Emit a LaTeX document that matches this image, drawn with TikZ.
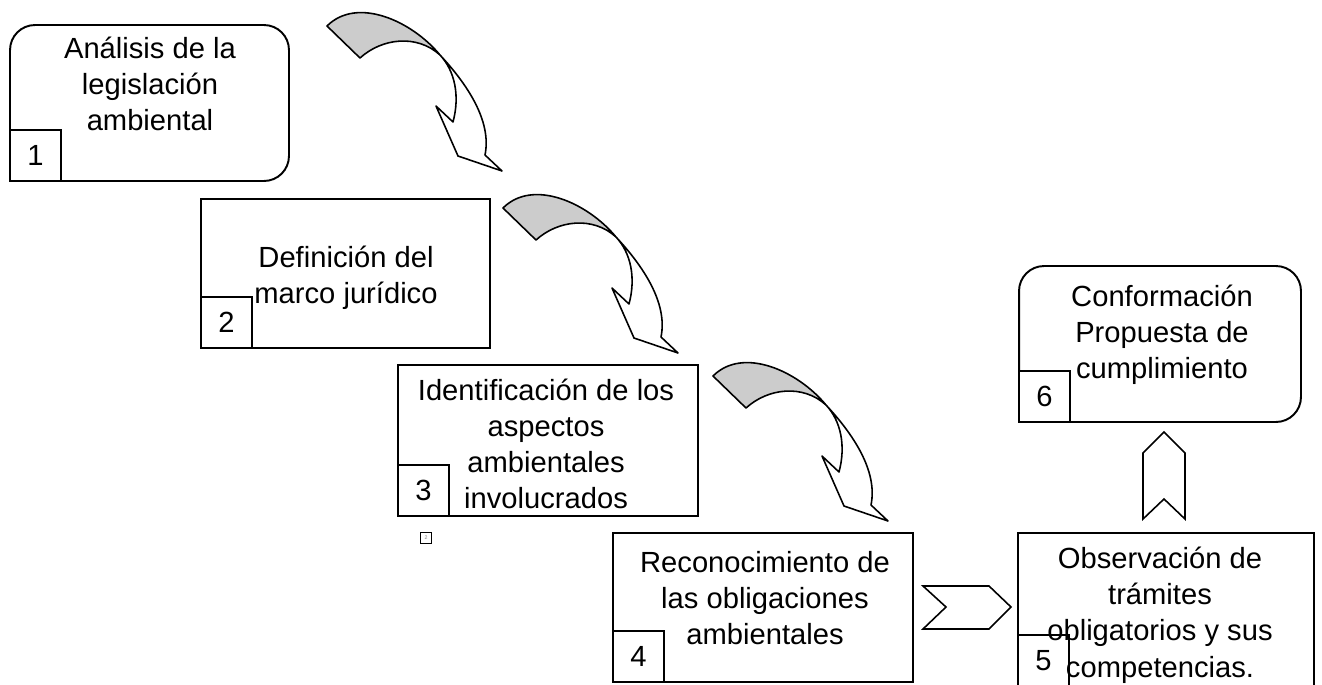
\documentclass[tikz,border=0pt]{standalone}
\usepackage{fontspec}
\setmainfont{Liberation Sans}

\tikzset{
  stage/.style={draw, line width=1.1pt, inner sep=0pt},
  numbox/.style={draw, fill=white, line width=1.1pt, minimum size=1.02cm, inner sep=0pt, anchor=south west,
                 font=\fontsize{16.6}{20.6}\selectfont},
  label/.style={align=center, inner sep=0pt, font=\fontsize{16.6}{20.6}\selectfont},
  twist/.pic={
    % back face of the bent arrow
    \filldraw[fill=gray!40, line width=0.9pt, line join=round]
      (0,0) -- (33,32) .. controls (55,12) and (90,8) .. (113,29)
      .. controls (85,-5) and (30,-30) .. cycle;
    % front face with the head
    \draw[fill=white, line width=0.9pt, line join=round]
      (113,29) .. controls (140,58) and (165,95) .. (158,129)
      -- (175,145) -- (131,130) -- (109,80) -- (126,96)
      .. controls (133,70) and (128,45) .. (113,29);
  }
}

\begin{document}
\begin{tikzpicture}[x=0.02cm, y=-0.02cm]
    \clip (0,0) rectangle (1322,684);

    \node[stage, rounded corners=0.5cm, minimum width=5.58cm, minimum height=3.12cm] (b1) at (149.5,103) {};
    \node[stage, minimum width=5.78cm, minimum height=2.98cm] (b2) at (345.5,273.5) {};
    \node[stage, minimum width=6.0cm, minimum height=3.02cm] (b3) at (548,440.5) {};
    \node[stage, minimum width=6.0cm, minimum height=2.98cm] (b4) at (763,607.5) {};
    \node[stage, minimum width=5.92cm, minimum height=3.06cm] (b5) at (1166,609.5) {};
    \node[stage, rounded corners=0.5cm, minimum width=5.64cm, minimum height=3.12cm] (b6) at (1160,344) {};

    \node[numbox] (n1) at (b1.south west) {1};
    \node[numbox] (n2) at (b2.south west) {2};
    \node[numbox] (n3) at (b3.south west) {3};
    \node[numbox] (n4) at (b4.south west) {4};
    \node[numbox] (n5) at (b5.south west) {5};
    \node[numbox] (n6) at (b6.south west) {6};

    \node[label] (t1) at (150,84) {Análisis de la\\legislación\\ambiental};
    \node[label] (t2) at (346,278) {Definición del\\marco jurídico};
    \node[label] (t3) at (546,444) {Identificación de los\\aspectos\\ambientales\\involucrados};
    \node[label] (t4) at (765,598) {Reconocimiento de\\las obligaciones\\ambientales};
    \node[label] (t5) at (1160,615) {Observación de\\trámites\\obligatorios y sus\\competencias.};
    \node[label] (t6) at (1162,335) {Conformación\\Propuesta de\\cumplimiento};

    % stray marker under box 3
    \node[draw, line width=0.6pt, minimum size=0.22cm, inner sep=0pt,
          text=gray, font=\fontsize{3}{3}\selectfont] (mark) at (426,538) {2};

    % bent arrows between the steps
    \pic at (327,26) {twist};
    \pic at (503,208) {twist};
    \pic at (713,376) {twist};

    % chevrons
    \draw[line width=0.9pt, line join=miter]
      (923,586) -- (989,586) -- (1011,607) -- (989,629) -- (923,629) -- (946,607) -- cycle;
    \draw[line width=0.9pt, line join=miter]
      (1164,432) -- (1185,453) -- (1185,519) -- (1164,499) -- (1143,519) -- (1143,453) -- cycle;
\end{tikzpicture}
\end{document}
